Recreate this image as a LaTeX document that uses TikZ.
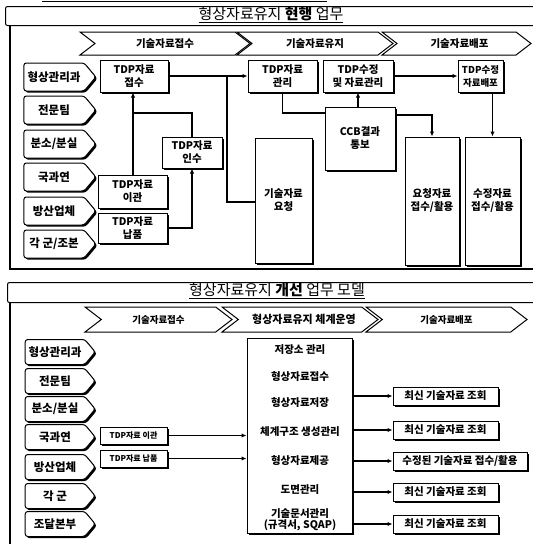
\documentclass[tikz,border=0pt]{standalone}
\usepackage{fontspec}
\setmainfont{Noto Sans CJK KR}
\usetikzlibrary{shapes.symbols,shadows,arrows.meta,calc}
\begin{document}
\begin{tikzpicture}[x=1pt,y=-1pt]
\tikzset{
  shd/.style={drop shadow={shadow xshift=1.6pt,shadow yshift=-1.6pt,fill=black,opacity=1}},
  bx/.style={draw,fill=white,line width=1pt,shd,align=center,inner sep=1pt,
    font=\bfseries\fontsize{10.5}{13}\selectfont},
  pent/.style={signal,signal to=east,signal pointer angle=100,draw,fill=white,
    line width=1pt,rounded corners=2.5pt,shd,inner sep=0pt,minimum width=72,
    font=\bfseries\fontsize{11.5}{13}\selectfont},
  chev/.style={signal,signal from=west,signal to=east,signal pointer angle=75,
    draw,fill=white,line width=1pt,inner sep=0pt,
    font=\bfseries\fontsize{10.5}{12}\selectfont},
  ln/.style={line width=1.2pt},
  ar/.style={ln,-{Latex[length=5pt,width=4.5pt]}},
  item/.style={font=\bfseries\fontsize{10.5}{12}\selectfont,inner sep=0pt,align=center},
  ttlfont/.style={font=\fontsize{15}{15}\selectfont,inner sep=0pt},
}
\useasboundingbox (0,0) rectangle (533,544);
% ---------------- top section ----------------
\draw[line width=1.8pt] (42,1.5) -- (327,1.5);
\node[draw,line width=1pt,rounded corners=2pt,anchor=north west,minimum width=532,minimum height=19] (tbar) at (5,6) {};
\node[ttlfont] (ttl) at (271,15) {\underline{형상자료유지 \textbf{현행} 업무}};
\draw[line width=1.2pt] (10,25) -- (10,269) -- (533,269);

\node[chev,minimum width=170,minimum height=23] (c1) at (165,43.5) {기술자료접수};
\node[chev,minimum width=156,minimum height=23] (c2) at (315,43.5) {기술자료유지};
\node[chev,minimum width=149,minimum height=23] (c3) at (456.5,43.5) {\hspace{6pt}기술자료배포};

\node[pent,minimum height=28] (p1) at (54,77) {형상관리과};
\node[pent,minimum height=28] (p2) at (54,110) {전문팀};
\node[pent,minimum height=28] (p3) at (54,144) {분소/분실};
\node[pent,minimum height=28] (p4) at (54,177) {국과연};
\node[pent,minimum height=28] (p5) at (54,211) {방산업체};
\node[pent,minimum height=28] (p6) at (54,244) {각 군/조본};

\node[bx,minimum width=68,minimum height=32] (t1) at (134,76) {TDP자료\\접수};
\node[bx,minimum width=69,minimum height=32] (t2) at (282.5,76) {TDP자료\\관리};
\node[bx,minimum width=70,minimum height=32] (t3) at (358,76) {TDP수정\\및 자료관리};
\node[bx,minimum width=45,minimum height=32,font=\bfseries\fontsize{9.5}{13}\selectfont] (t4) at (480.5,76) {TDP수정\\자료배포};
\node[bx,minimum width=70,minimum height=63] (ccb) at (360,138.5) {CCB결과\\통보};
\node[bx,minimum width=60,minimum height=31] (insu) at (192,152.5) {TDP자료\\인수};
\node[bx,minimum width=69,minimum height=33] (igwan) at (132.5,191.5) {TDP자료\\이관};
\node[bx,minimum width=69,minimum height=30] (napum) at (132.5,228) {TDP자료\\납품};
\node[bx,minimum width=57,minimum height=125] (req) at (283.5,200.5) {기술자료\\요청};
\node[bx,minimum width=54,minimum height=128] (r1) at (432,201) {요청자료\\접수/활용};
\node[bx,minimum width=55,minimum height=128] (r2) at (492.5,201) {수정자료\\접수/활용};

\coordinate (j1) at (227,76);
\coordinate (j2) at (255,202);
\coordinate (j3) at (133,113);
\coordinate (j4) at (395,115);
\draw[ar] (t1.east) -- (t2.west);
\draw[ln] (j1) |- (j2);
\draw[ar] (igwan.north -| j3) -- (j3 |- t1.south);
\draw[ln] (insu.north) |- (j3);
\draw[ar] (napum.east) -| (insu.south);
\draw[ln] (t2.south) |- (ccb.west |- j3);
\draw[ar] (ccb.north -| t3.south) -- (t3.south);
\draw[ar] (t3.east) -- (t4.west);
\draw[ar] (j4) -| (r1.north);
\draw[ar] (r2.north |- t4.south) -- (r2.north);

% ---------------- bottom section ----------------
\node[draw,line width=1pt,rounded corners=2pt,anchor=north west,minimum width=532,minimum height=20] (bbar) at (7,282) {};
\node[ttlfont] (btl) at (277,291) {\underline{형상자료유지 \textbf{개선} 업무 모델}};
\draw[line width=1.2pt] (10,302) -- (10,545);

\node[chev,minimum width=147,minimum height=25,font=\bfseries\fontsize{9.5}{12}\selectfont] (d1) at (158.5,319.5) {기술자료접수};
\node[chev,minimum width=156,minimum height=25,font=\bfseries\fontsize{11}{12}\selectfont] (d2) at (300,319.5) {\hspace{8pt}형상자료유지 체계운영};
\node[chev,minimum width=161,minimum height=25,font=\bfseries\fontsize{9.5}{12}\selectfont] (d3) at (446.5,319.5) {기술자료배포};

\node[pent,minimum width=70,minimum height=25] (q1) at (55,352) {형상관리과};
\node[pent,minimum width=70,minimum height=25] (q2) at (55,381) {전문팀};
\node[pent,minimum width=70,minimum height=25] (q3) at (55,409) {분소/분실};
\node[pent,minimum width=70,minimum height=25] (q4) at (55,437) {국과연};
\node[pent,minimum width=70,minimum height=25] (q5) at (55,467) {방산업체};
\node[pent,minimum width=70,minimum height=25] (q6) at (55,496) {각 군};
\node[pent,minimum width=70,minimum height=25] (q7) at (55,524) {조달본부};

\node[bx,minimum width=67,minimum height=17,font=\bfseries\fontsize{8}{10}\selectfont] (ig2) at (133.5,435.5) {TDP자료 이관};
\node[bx,minimum width=67,minimum height=17,font=\bfseries\fontsize{8}{10}\selectfont] (np2) at (133.5,458.5) {TDP자료 납품};

\node[bx,minimum width=105,minimum height=195] (sys) at (299.5,435.5) {};
\node[item] (s1) at (300,350) {저장소 관리};
\node[item] (s2) at (300,377) {형상자료접수};
\node[item] (s3) at (300,403) {형상자료저장};
\node[item] (s4) at (300,432) {체계구조 생성관리};
\node[item] (s5) at (300,461) {형상자료제공};
\node[item] (s6) at (300,490) {도면관리};
\node[item,font=\bfseries\fontsize{10.5}{11}\selectfont] (s7) at (300,520) {기술문서관리\\(규격서, SQAP)};

\node[bx,minimum width=105,minimum height=18] (o1) at (445.5,396) {최신 기술자료 조회};
\node[bx,minimum width=105,minimum height=18] (o2) at (445.5,430) {최신 기술자료 조회};
\node[bx,minimum width=134,minimum height=18] (o3) at (460,461) {수정된 기술자료 접수/활용};
\node[bx,minimum width=105,minimum height=18] (o4) at (445.5,492) {최신 기술자료 조회};
\node[bx,minimum width=105,minimum height=18] (o5) at (445.5,524) {최신 기술자료 조회};

\draw[ar] (ig2.east) -- (ig2.east -| sys.west);
\draw[ar] (np2.east) -- (np2.east -| sys.west);
\foreach \o in {o1,o2,o3,o4,o5}{\draw[ar] (sys.east |- \o.west) -- (\o.west);}
\end{tikzpicture}
\end{document}
